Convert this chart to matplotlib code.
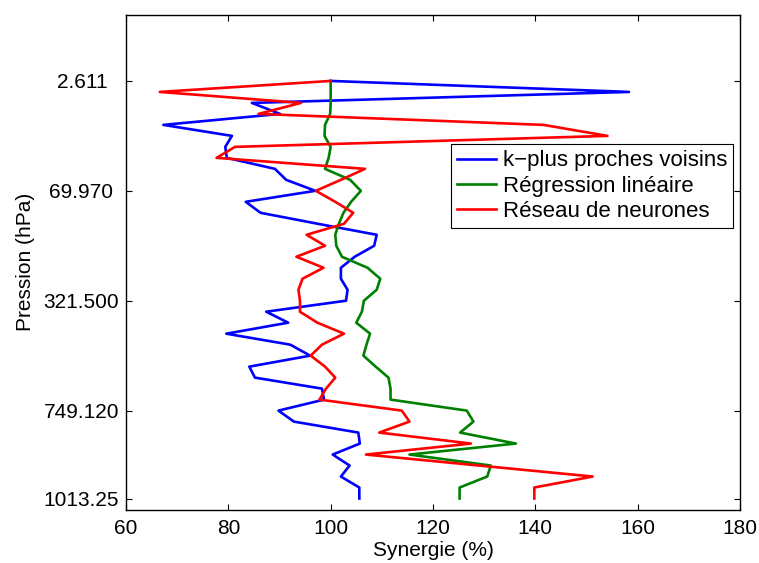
import numpy as np
import matplotlib
matplotlib.use("Agg")
import matplotlib.pyplot as plt

plt.rcParams['font.family'] = ['Liberation Sans', 'DejaVu Sans']

# pressure level index (0 = top of profile)
levels = np.arange(39)

knn = [100.0, 158.3, 84.6, 90.1, 67.3, 80.7, 79.4, 79.7, 89.1, 91.3,
       97.0, 83.4, 86.3, 97.5, 109.0, 108.5, 104.7, 102.0, 102.0, 103.3,
       103.0, 87.4, 91.7, 79.6, 92.1, 96.0, 84.1, 85.2, 98.3, 98.7,
       89.8, 92.8, 105.4, 105.7, 100.4, 103.7, 102.0, 105.6, 105.6]

regression = [100.0, 100.0, 100.0, 99.9, 98.9, 98.8, 100.0, 99.6, 98.9, 103.8,
              105.9, 104.0, 102.5, 101.6, 100.9, 101.1, 102.2, 107.2, 109.7, 109.0,
              106.5, 106.1, 105.0, 107.7, 107.0, 106.4, 108.8, 111.3, 111.7, 111.7,
              126.6, 127.9, 125.3, 136.2, 115.4, 131.3, 130.6, 125.2, 125.2]

neural = [100.0, 66.6, 94.2, 85.9, 141.6, 154.1, 81.3, 77.7, 106.7, 102.0,
          97.1, 100.9, 104.4, 102.6, 95.3, 98.9, 93.3, 98.6, 94.5, 93.7,
          94.0, 94.0, 97.4, 102.6, 98.3, 96.1, 98.9, 100.9, 99.1, 97.8,
          113.9, 115.4, 109.5, 127.4, 106.9, 129.0, 151.2, 139.8, 139.8]

series_labels = ['k\u2212plus proches voisins', 'Régression linéaire', 'Réseau de neurones']
tick_levels = [0, 10, 20, 30, 38]
tick_labels = ['2.611  ', '69.970 ', '321.500', '749.120', '1013.25']

fig = plt.figure(figsize=(7.59, 5.63), dpi=100)
ax = fig.add_axes([126 / 759, 53.5 / 563, 614 / 759, 494.5 / 563])

ax.plot(knn, levels, color=(0, 0, 1), linewidth=1.9, label=series_labels[0])
ax.plot(regression, levels, color=(0, 0.5, 0), linewidth=1.9, label=series_labels[1])
ax.plot(neural, levels, color=(1, 0, 0), linewidth=1.9, label=series_labels[2])

ax.set_xlim(60, 180)
ax.set_ylim(39, -6)
ax.set_xticks([60, 80, 100, 120, 140, 160, 180])
ax.set_yticks(tick_levels)
ax.set_yticklabels(tick_labels)

ax.tick_params(direction='in', length=4.5, width=0.8, top=True, right=True,
               labelsize=15)
ax.tick_params(axis='x', pad=7)
ax.tick_params(axis='y', pad=5)
for sp in ax.spines.values():
    sp.set_linewidth(1.0)

ax.set_xlabel('Synergie (%)', fontsize=15, labelpad=2)
ax.set_ylabel('Pression (hPa)', fontsize=15, labelpad=6)

leg = ax.legend(loc='upper right', bbox_to_anchor=(0.989, 0.739), borderaxespad=0,
                fontsize=16, fancybox=False, edgecolor='black', framealpha=1,
                handlelength=1.75, handletextpad=0.3, labelspacing=0.2,
                borderpad=0.28)
leg.get_frame().set_linewidth(0.8)

plt.savefig('out.png', dpi=100)
